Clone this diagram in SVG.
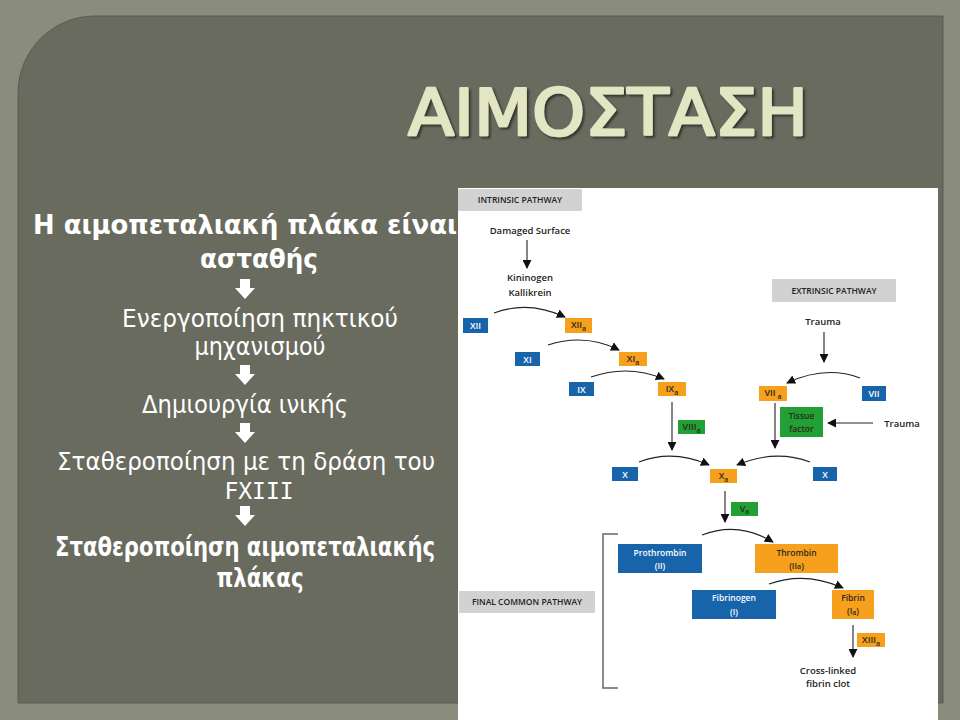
<svg xmlns="http://www.w3.org/2000/svg" width="960" height="720" viewBox="0 0 960 720">
<defs>
<style>
.lt{font-family:"DejaVu Sans","Liberation Sans",sans-serif;fill:#ffffff;text-anchor:middle}
.lr{font-size:25px}
.lb{font-size:26px;font-weight:bold}
.mono{font-family:"DejaVu Sans Mono","Liberation Mono",monospace;font-size:23px}
.dl{font-family:"Open Sans","Liberation Sans",sans-serif;font-weight:600;font-size:9.5px;fill:#222;text-anchor:middle}
.gl{font-family:"Open Sans","Liberation Sans",sans-serif;font-weight:600;font-size:8.5px;fill:#222;text-anchor:middle}
.bx{font-family:"Open Sans","Liberation Sans",sans-serif;font-weight:600;font-size:9px;text-anchor:middle}
.b2{font-size:8.5px}
.bw{fill:#ffffff}
.bd{fill:#2a2a1a}
.blue{fill:#1764aa}
.org{fill:#f6a01e}
.grn{fill:#22a035}
.gray{fill:#d2d2d2}
.con{fill:none;stroke:#222;stroke-width:1.1}
.sub{font-size:7px}
</style>
<marker id="ah" viewBox="0 0 10 10" refX="9" refY="5" markerWidth="9" markerHeight="9" markerUnits="userSpaceOnUse" orient="auto">
<path d="M0,0 L10,5 L0,10 z" fill="#111"/>
</marker>
<path id="dn" d="M-5,0 H5 V9 H10 L0,20 L-10,9 H-5 Z" fill="#ffffff"/>
<filter id="sh" x="-5%" y="-20%" width="110%" height="140%">
<feDropShadow dx="2" dy="2" stdDeviation="1.2" flood-color="#2e2f28" flood-opacity="0.9"/>
</filter>
</defs>

<!-- background -->
<rect x="0" y="0" width="960" height="720" fill="#8a8d7d"/>
<path d="M95,16 H943 V703 H18 V93 A77,77 0 0 1 95,16 Z" fill="#696b5f" stroke="#5a5c51" stroke-width="1"/>

<!-- title -->
<g id="title" filter="url(#sh)">
<text x="408" y="135" textLength="400" lengthAdjust="spacingAndGlyphs" font-family="DejaVu Sans, sans-serif" font-size="64" fill="#e3e6c3" stroke="#e3e6c3" stroke-width="2.5" stroke-linejoin="round">ΑΙΜΟΣΤΑΣΗ</text>
</g>

<!-- left flow text -->
<g id="left-text">
<text class="lt lb" x="245" y="234" textLength="424" lengthAdjust="spacingAndGlyphs">Η αιμοπεταλιακή πλάκα είναι</text>
<text class="lt lb" x="259" y="268" textLength="118" lengthAdjust="spacingAndGlyphs">ασταθής</text>
<use href="#dn" x="245" y="279"/>
<text class="lt lr" x="260" y="327" textLength="276" lengthAdjust="spacingAndGlyphs">Ενεργοποίηση πηκτικού</text>
<text class="lt lr" x="260" y="355" textLength="131" lengthAdjust="spacingAndGlyphs">μηχανισμού</text>
<use href="#dn" x="245" y="365"/>
<text class="lt lr" x="245" y="413" textLength="206" lengthAdjust="spacingAndGlyphs">Δημιουργία ινικής</text>
<use href="#dn" x="245" y="423"/>
<text class="lt lr" x="246" y="470" textLength="378" lengthAdjust="spacingAndGlyphs">Σταθεροποίηση με τη δράση του</text>
<text class="lt mono" x="259" y="499">FXIII</text>
<use href="#dn" x="245" y="506"/>
<text class="lt lb" x="245" y="556" textLength="380" lengthAdjust="spacingAndGlyphs">Σταθεροποίηση αιμοπεταλιακής</text>
<text class="lt lb" x="260" y="587" textLength="87" lengthAdjust="spacingAndGlyphs">πλάκας</text>
</g>

<!-- coagulation diagram panel -->
<rect x="458" y="188" width="480" height="532" fill="#ffffff"/>

<g id="intrinsic-label"><rect class="gray" x="458" y="189" width="124" height="22"/><text class="gl" x="520" y="203">INTRINSIC PATHWAY</text></g>
<g id="extrinsic-label"><rect class="gray" x="772" y="279" width="124" height="23"/><text class="gl" x="834" y="294">EXTRINSIC PATHWAY</text></g>
<g id="final-label"><rect class="gray" x="459" y="591" width="136" height="22"/><text class="gl" x="527" y="605">FINAL COMMON  PATHWAY</text></g>

<g id="damaged"><text class="dl" x="530" y="234">Damaged Surface</text></g>
<g id="kininogen"><text class="dl" x="530" y="281">Kininogen</text><text class="dl" x="530" y="296">Kallikrein</text></g>
<g id="trauma1"><text class="dl" x="823" y="325">Trauma</text></g>
<g id="trauma2"><text class="dl" x="902" y="427">Trauma</text></g>

<g id="XII"><rect class="blue" x="463" y="318" width="25" height="15"/><text class="bx bw" x="475.5" y="329">XII</text></g>
<g id="XIIa"><rect class="org" x="565" y="318" width="27" height="15"/><text class="bx bd" x="578.5" y="328">XII<tspan class="sub" dy="3">a</tspan></text></g>
<g id="XI"><rect class="blue" x="515" y="352" width="25" height="14"/><text class="bx bw" x="527.5" y="362.5">XI</text></g>
<g id="XIa"><rect class="org" x="619" y="352" width="28" height="14"/><text class="bx bd" x="633" y="362">XI<tspan class="sub" dy="3">a</tspan></text></g>
<g id="IX"><rect class="blue" x="569" y="382" width="25" height="14"/><text class="bx bw" x="581.5" y="392.5">IX</text></g>
<g id="IXa"><rect class="org" x="658" y="382" width="28" height="14"/><text class="bx bd" x="672" y="392">IX<tspan class="sub" dy="3">a</tspan></text></g>
<g id="VIIIa"><rect class="grn" x="678" y="420" width="27" height="14"/><text class="bx bd" x="691.5" y="430">VIII<tspan class="sub" dy="3">a</tspan></text></g>
<g id="X-left"><rect class="blue" x="612" y="467" width="26" height="14"/><text class="bx bw" x="625" y="477.5">X</text></g>
<g id="Xa"><rect class="org" x="710" y="469" width="27" height="14"/><text class="bx bd" x="723.5" y="479">X<tspan class="sub" dy="3">a</tspan></text></g>
<g id="X-right"><rect class="blue" x="813" y="467" width="24" height="14"/><text class="bx bw" x="825" y="477.5">X</text></g>
<g id="VIIa"><rect class="org" x="759" y="386" width="28" height="15"/><text class="bx bd" x="773" y="396">VII<tspan class="sub" dy="3"> a</tspan></text></g>
<g id="VII"><rect class="blue" x="862" y="386" width="24" height="15"/><text class="bx bw" x="874" y="397">VII</text></g>
<g id="tissue-factor"><rect class="grn" x="780" y="407" width="43" height="30"/><text class="bx b2 bd" x="801.5" y="419">Tissue</text><text class="bx b2 bd" x="801.5" y="432">factor</text></g>
<g id="Va"><rect class="grn" x="731" y="502" width="27" height="14"/><text class="bx bd" x="744.5" y="512">V<tspan class="sub" dy="2">a</tspan></text></g>
<g id="prothrombin"><rect class="blue" x="618" y="544" width="84" height="29"/><text class="bx b2 bw" x="660" y="556">Prothrombin</text><text class="bx b2 bw" x="660" y="569">(II)</text></g>
<g id="thrombin"><rect class="org" x="755" y="544" width="83" height="29"/><text class="bx b2 bd" x="796.5" y="556">Thrombin</text><text class="bx b2 bd" x="796.5" y="569">(II<tspan class="sub">a</tspan>)</text></g>
<g id="fibrinogen"><rect class="blue" x="692" y="590" width="84" height="29"/><text class="bx b2 bw" x="734" y="601">Fibrinogen</text><text class="bx b2 bw" x="734" y="615">(I)</text></g>
<g id="fibrin"><rect class="org" x="832" y="590" width="42" height="29"/><text class="bx b2 bd" x="853" y="601">Fibrin</text><text class="bx b2 bd" x="853" y="614">(I<tspan class="sub" dy="1">a</tspan><tspan dy="-1">)</tspan></text></g>
<g id="XIIIa"><rect class="org" x="857" y="633" width="28" height="14"/><text class="bx bd" x="871" y="643">XIII<tspan class="sub" dy="3">a</tspan></text></g>
<g id="clot"><text class="dl" x="828" y="674">Cross-linked</text><text class="dl" x="828" y="687">fibrin clot</text></g>

<g id="bracket"><path d="M618,534 H603 V688 H618" fill="none" stroke="#666" stroke-width="1.5"/></g>

<g id="connectors">
<path class="con" marker-end="url(#ah)" d="M527,240 L527,268"/>
<path class="con" marker-end="url(#ah)" d="M494,313 Q528,300 565,317"/>
<path class="con" marker-end="url(#ah)" d="M548,345 Q585,333 619,350"/>
<path class="con" marker-end="url(#ah)" d="M591,377 Q628,364 664,379"/>
<path class="con" marker-end="url(#ah)" d="M672,402 L672,450"/>
<path class="con" marker-end="url(#ah)" d="M639,462 Q673,449 709,465"/>
<path class="con" marker-end="url(#ah)" d="M810,462 Q775,449 737,465"/>
<path class="con" marker-end="url(#ah)" d="M824,332 L824,362"/>
<path class="con" marker-end="url(#ah)" d="M860,378 Q825,365 787,383"/>
<path class="con" marker-end="url(#ah)" d="M775,403 L775,448"/>
<path class="con" marker-end="url(#ah)" d="M873,423 L828,423"/>
<path class="con" marker-end="url(#ah)" d="M725,491 L725,522"/>
<path class="con" marker-end="url(#ah)" d="M702,535 Q738,521 773,542"/>
<path class="con" marker-end="url(#ah)" d="M769,584 Q805,571 843,588"/>
<path class="con" marker-end="url(#ah)" d="M853,625 L853,657"/>
</g>
</svg>
